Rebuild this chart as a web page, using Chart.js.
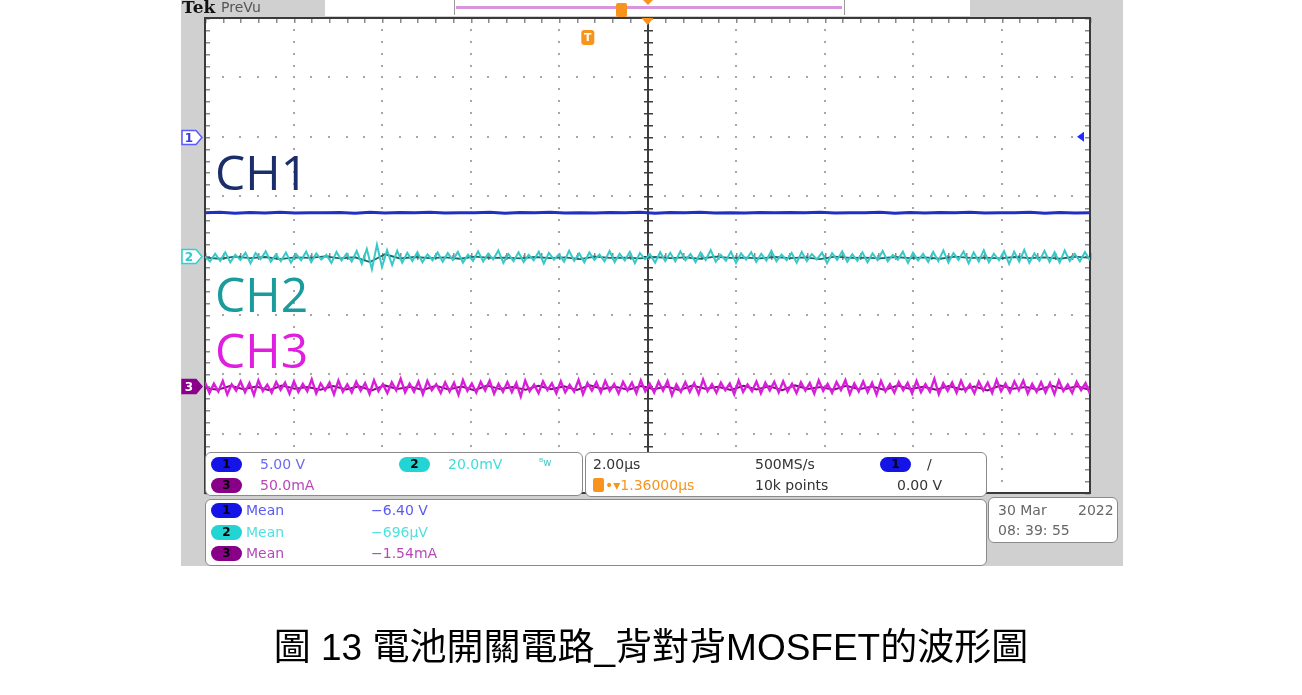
<!DOCTYPE html>
<html lang="zh-Hant">
<head>
<meta charset="UTF-8">
<title>電池開關電路 背對背MOSFET 波形</title>
<script src="https://cdn.jsdelivr.net/npm/chart.js"></script>
<style>
  html, body { margin: 0; padding: 0; background: #fff; }
  body { width: 1302px; height: 695px; position: relative; overflow: hidden; font-family: "DejaVu Sans", sans-serif; }
  #scopeBg { position: absolute; left: 181px; top: 0; width: 942px; height: 566px; background: #d0d0d0; }
  #scope { position: absolute; left: 0; top: 0; }
  .abs { position: absolute; white-space: nowrap; }
  .box { position: absolute; background: #fff; border: 1.5px solid #8a8a8a; border-radius: 6px; box-sizing: border-box; }
  .t { position: absolute; font-size: 14px; line-height: 16px; white-space: nowrap; }
  .pill { position: absolute; width: 31px; height: 15px; border-radius: 8px; font: bold 12px/15px "DejaVu Sans", sans-serif; color: #000; text-align: center; }
  .chl { position: absolute; font-family: "Open Sans", "Noto Sans", sans-serif; font-size: 48px; line-height: 48px; }
  #caption { position: absolute; left: 0; width: 1302px; top: 628px; text-align: center; font-family: "Liberation Sans", "Noto Sans CJK TC", sans-serif; font-size: 37px; line-height: 40px; color: #000; }
</style>
</head>
<body>
<div id="scopeBg"></div>
<canvas id="scope" width="1302" height="695"></canvas>

<!-- top status bar -->
<div class="abs" style="left:182px;top:-2px;font:bold 17px/18px 'DejaVu Serif',serif;color:#111;">Tek</div>
<div class="abs" style="left:221px;top:0;font:14px/15px 'DejaVu Sans',sans-serif;color:#555;">PreVu</div>
<div class="abs" style="left:325px;top:0;width:645px;height:16px;background:#fff;"></div>
<div class="abs" style="left:454px;top:0;width:389px;height:15px;border-left:1.5px solid #999;border-right:1.5px solid #999;"></div>
<div class="abs" style="left:456px;top:6px;width:386px;height:3px;background:#d894dc;"></div>
<div class="abs" style="left:616px;top:3px;width:11px;height:14px;background:#f7941d;border-radius:2px;"></div>
<div class="abs" style="left:643px;top:0;width:0;height:0;border-left:5px solid transparent;border-right:5px solid transparent;border-top:5px solid #f7941d;"></div>

<!-- channel labels -->
<div class="chl" style="left:215px;top:148px;color:#1c2d6b;">CH1</div>
<div class="chl" style="left:215px;top:270px;color:#1a9c9c;">CH2</div>
<div class="chl" style="left:215px;top:326px;color:#e01ee0;">CH3</div>

<!-- readout box: channel scales -->
<div class="box" style="left:205px;top:452px;width:378px;height:44px;"></div>
<div class="pill" style="left:211px;top:457px;background:#1414e6;">1</div>
<div class="t" style="left:260px;top:456px;color:#6a6af0;">5.00 V</div>
<div class="pill" style="left:399px;top:457px;background:#22d4d4;">2</div>
<div class="t" style="left:448px;top:456px;color:#40dcdc;">20.0mV</div>
<div class="t" style="left:539px;top:455px;font-size:10px;color:#40c8c8;">ᴮw</div>
<div class="pill" style="left:211px;top:478px;background:#880088;">3</div>
<div class="t" style="left:260px;top:477px;color:#b848b8;">50.0mA</div>

<!-- readout box: timebase / trigger -->
<div class="box" style="left:585px;top:452px;width:402px;height:45px;"></div>
<div class="t" style="left:593px;top:456px;color:#333;">2.00µs</div>
<div class="t" style="left:755px;top:456px;color:#333;">500MS/s</div>
<div class="pill" style="left:880px;top:457px;background:#1414e6;">1</div>
<div class="t" style="left:927px;top:456px;color:#333;">/</div>
<div class="abs" style="left:593px;top:478px;width:11px;height:14px;background:#f7941d;border-radius:2px;"></div>
<div class="t" style="left:605px;top:477px;color:#f7941d;">•▾1.36000µs</div>
<div class="t" style="left:755px;top:477px;color:#333;">10k points</div>
<div class="t" style="left:897px;top:477px;color:#333;">0.00 V</div>

<!-- measurement box -->
<div class="box" style="left:205px;top:499px;width:782px;height:67px;"></div>
<div class="pill" style="left:211px;top:503px;background:#1414e6;">1</div>
<div class="t" style="left:246px;top:502px;color:#5a5af0;">Mean</div>
<div class="t" style="left:371px;top:502px;color:#5a5af0;">−6.40 V</div>
<div class="pill" style="left:211px;top:525px;background:#22d4d4;">2</div>
<div class="t" style="left:246px;top:524px;color:#50e0e0;">Mean</div>
<div class="t" style="left:371px;top:524px;color:#50e0e0;">−696µV</div>
<div class="pill" style="left:211px;top:546px;background:#880088;">3</div>
<div class="t" style="left:246px;top:545px;color:#b848b8;">Mean</div>
<div class="t" style="left:371px;top:545px;color:#b848b8;">−1.54mA</div>

<!-- date box -->
<div class="box" style="left:988px;top:497px;width:130px;height:46px;"></div>
<div class="t" style="left:998px;top:502px;color:#666;">30 Mar</div>
<div class="t" style="left:1078px;top:502px;color:#666;">2022</div>
<div class="t" style="left:998px;top:522px;color:#666;">08: 39: 55</div>

<div id="caption">圖 13 電池開關電路_背對背MOSFET的波形圖</div>

<script>
// time base: 2.00 µs/div, 10 divisions, time relative to screen centre (µs)
const timeDivs = [-10, -8, -6, -4, -2, 0, 2, 4, 6, 8, 10];
// vertical divisions (screen units, centre = 0)
const voltDivs = [-4, -3, -2, -1, 0, 1, 2, 3, 4];
const triggerTime = -1.36;     // µs, trigger point relative to centre

// channel settings: scale per division and marker position (div)
const ch1Scale = 5.0,  ch1Pos = 2.0;    // V/div
const ch2Scale = 20.0, ch2Pos = 0.0;    // mV/div
const ch3Scale = 50.0, ch3Pos = -2.2;   // mA/div

// CH1 (V) - flat at about -6.40 V
const ch1Volts = [
  -6.40,-6.36,-6.44,-6.38,-6.42,-6.35,-6.43,-6.39,-6.41,-6.37,-6.44,-6.36,-6.42,-6.38,-6.40,-6.35,-6.43,-6.39,-6.41,-6.36,
  -6.44,-6.38,-6.40,-6.36,-6.42,-6.39,-6.43,-6.37,-6.41,-6.35,-6.44,-6.38,-6.40,-6.36,-6.42,-6.39,-6.43,-6.37,-6.41,-6.38,
  -6.40,-6.35,-6.43,-6.39,-6.41,-6.36,-6.44,-6.38,-6.42,-6.37,-6.40,-6.36,-6.43,-6.39,-6.41,-6.35,-6.44,-6.38,-6.42,-6.40
];

// CH2 (mV) - noise envelope around 0, small burst near the left
const ch2Noise = [
  -0.4,-2.0,0.6,-1.8,1.1,-2.3,0.2,-1.5,0.9,-2.6,0.8,-1.2,1.4,-2.1,0.3,-1.9,
  1.0,-2.4,0.5,-1.6,1.3,-2.2,0.7,-1.4,0.2,-2.5,1.2,-1.7,0.6,-2.0,1.5,-2.8,
  2.2,-4.6,3.6,-3.9,1.8,-3.2,1.6,-2.4,0.9,-1.9,1.1,-2.3,0.4,-1.6,1.0,-2.1,
  0.8,-1.5,1.2,-2.4,0.3,-1.8,1.4,-2.0,0.6,-1.3,1.7,-2.5,0.5,-1.9,1.1,-2.2,
  0.2,-1.6,1.3,-2.7,0.9,-1.4,0.4,-2.1,1.6,-1.8,0.7,-2.3,1.0,-1.5,0.3,-2.0,
  1.5,-2.2,0.6,-1.7,1.2,-2.6,0.8,-1.3,0.4,-2.4,1.1,-1.9,0.9,-2.0,1.4,-1.6,
  0.5,-2.3,1.0,-1.5,1.8,-2.1,0.2,-1.8,1.3,-2.5,0.7,-1.4,1.1,-2.2,0.6,-1.7,
  1.6,-2.0,0.3,-1.6,0.9,-2.4,1.2,-1.9,0.5,-1.3,1.0,-2.6,0.8,-1.5,1.4,-2.1,
  0.4,-1.8,1.1,-2.3,0.7,-1.6,1.5,-2.0,0.2,-1.4,1.3,-2.5,0.9,-1.7,0.6,-2.2,
  1.2,-1.9,1.7,-2.4,0.8,-1.5,1.4,-2.6,1.0,-2.0,1.8,-2.3,0.6,-1.6,1.5,-2.8,
  1.3,-2.1,1.9,-2.5,0.7,-1.8,1.6,-2.2,1.1,-2.4,1.7,-1.9,0.5,-2.0,1.2,-1.6
];
// CH2 dense core (mV)
const ch2Core = [
  -0.7,-1.1,-0.4,-0.9,-0.5,-1.2,-0.6,-0.8,-0.3,-1.0,-0.6,-2.2,0.4,-1.0,-0.5,-0.9,
  -0.6,-1.1,-0.4,-0.8,-0.7,-1.0,-0.5,-0.9,-0.6,-1.2,-0.4,-0.8,-0.7,-1.0,
  -0.5,-0.9,-0.6,-1.1,-0.4,-0.8,-0.7,-1.0,-0.5,-0.9,-0.6,-1.2,-0.4,-0.8,-0.7,
  -1.0,-0.5,-0.9,-0.6,-1.1,-0.4,-0.8,-0.7,-1.0,-0.5,-0.9,-0.6,-1.1,-0.4,-0.8
];

// CH3 (mA) - wide noise band around -1.5 mA
const ch3Noise = [
  3.2,-5.8,2.1,-4.6,4.4,-6.9,1.5,-3.8,3.9,-5.2,2.6,-7.4,4.8,-4.1,1.2,-5.6,3.5,-3.2,2.9,-6.3,
  4.1,-5.0,1.8,-4.4,5.6,-6.1,2.3,-3.5,3.0,-7.0,4.6,-4.8,1.4,-5.4,3.7,-3.9,2.5,-6.6,4.9,-4.2,
  1.7,-5.9,3.3,-3.6,6.2,-5.3,2.0,-4.7,3.8,-6.8,4.3,-3.4,1.6,-5.7,3.1,-4.5,2.8,-7.2,5.1,-4.0,
  2.2,-5.5,3.6,-3.7,4.5,-6.4,1.9,-4.9,3.4,-5.1,2.7,-8.6,4.7,-4.3,1.3,-5.8,3.9,-3.3,2.4,-6.0,
  4.0,-5.2,1.1,-4.6,5.3,-6.7,2.6,-3.8,3.2,-5.5,4.4,-4.1,1.8,-6.2,3.5,-3.6,2.9,-5.9,4.8,-4.4,
  2.0,-5.4,3.7,-3.9,4.2,-7.6,1.5,-4.8,3.3,-5.0,2.5,-6.5,5.5,-4.2,1.7,-5.6,3.0,-3.5,2.2,-6.9,
  4.6,-4.9,1.4,-4.3,3.8,-6.0,2.8,-3.7,3.6,-5.3,4.1,-4.5,2.0,-5.8,3.2,-3.8,2.6,-6.3,4.9,-4.0,
  1.9,-5.7,3.4,-3.4,5.0,-6.6,2.3,-4.6,3.9,-5.1,2.8,-7.1,4.4,-4.4,1.6,-5.5,3.5,-3.6,2.7,-6.2,
  4.3,-5.1,1.7,-4.7,6.0,-6.8,2.4,-3.9,3.1,-5.6,4.5,-4.2,1.5,-6.0,3.8,-3.7,2.9,-5.8,5.2,-4.3,
  2.1,-5.3,3.9,-3.5,4.6,-6.2,1.8,-4.9,3.3,-5.4,2.6,-6.7,4.7,-4.1,1.3,-5.7,3.6,-3.4,2.5,-6.4
];
// CH3 dense core (mA)
const ch3Core = [
  -1.5,-3.0,0.2,-2.6,-0.4,-3.4,0.5,-2.2,-0.8,-3.1,0.1,-2.8,-0.2,-3.6,0.6,-2.4,-0.6,-3.2,0.3,-2.9,
  -0.3,-3.5,0.4,-2.5,-0.7,-3.0,0.2,-2.7,-0.1,-3.3,0.7,-2.3,-0.5,-3.1,0.1,-2.6,-0.4,-3.4,0.5,-2.1,
  -0.6,-3.2,0.3,-2.8,-0.2,-3.5,0.6,-2.4,-0.8,-3.0,0.2,-2.7,-0.3,-3.3,0.4,-2.5,-0.5,-3.1,0.1,-2.9,
  -0.4,-3.6,0.5,-2.2,-0.7,-3.0,0.3,-2.6,-0.1,-3.2
];

// samples spread evenly across the record, converted to screen divisions
function trace(values, scale, pos) {
  const t0 = timeDivs[0], span = timeDivs[timeDivs.length - 1] - t0;
  return values.map((v, i) => ({ x: t0 + span * i / (values.length - 1), y: v / scale + pos }));
}

function minors(majors) {
  const out = [];
  for (let i = 0; i < majors.length - 1; i++) {
    const step = (majors[i + 1] - majors[i]) / 5;
    for (let k = 0; k < 5; k++) out.push(majors[i] + k * step);
  }
  out.push(majors[majors.length - 1]);
  return out;
}

const scopeGrid = {
  id: 'scopeGrid',
  beforeDatasetsDraw(chart) {
    const { ctx, chartArea: a, scales: { x, y } } = chart;
    const xMin = minors(timeDivs), yMin = minors(voltDivs);
    const cx = Math.round(x.getPixelForValue(0)), cy = Math.round(y.getPixelForValue(0));
    ctx.save();
    ctx.fillStyle = '#fff';
    ctx.fillRect(a.left, a.top, a.right - a.left, a.bottom - a.top);

    // dotted division lines
    ctx.fillStyle = '#a6a6a6';
    timeDivs.slice(1, -1).forEach(t => {
      if (t === 0) return;
      const px = Math.round(x.getPixelForValue(t));
      yMin.forEach(v => ctx.fillRect(px - 1, Math.round(y.getPixelForValue(v)) - 1, 2, 2));
    });
    voltDivs.slice(1, -1).forEach(v => {
      const py = Math.round(y.getPixelForValue(v));
      xMin.forEach(t => ctx.fillRect(Math.round(x.getPixelForValue(t)) - 1, py - 1, 2, 2));
    });

    // centre graticule with ticks
    ctx.fillStyle = '#3c3c3c';
    ctx.fillRect(cx - 1, a.top, 2, a.bottom - a.top);
    yMin.forEach(v => ctx.fillRect(cx - 4, Math.round(y.getPixelForValue(v)), 9, 1.5));
    ctx.fillStyle = '#8a8a8a';
    xMin.forEach(t => ctx.fillRect(Math.round(x.getPixelForValue(t)), cy - 3, 1.5, 7));

    // edge ticks
    xMin.forEach(t => ctx.fillRect(Math.round(x.getPixelForValue(t)), a.top, 1.5, 5));
    yMin.forEach(v => {
      const py = Math.round(y.getPixelForValue(v));
      ctx.fillRect(a.right - 5, py, 5, 1.5);
      ctx.fillRect(a.left, py, 5, 1.5);
    });

    // frame
    ctx.strokeStyle = '#3a3a3a';
    ctx.lineWidth = 2;
    ctx.strokeRect(a.left, a.top, a.right - a.left, a.bottom - a.top);
    ctx.restore();
  },
  afterDraw(chart) {
    const { ctx, chartArea: a, scales: { x, y } } = chart;
    ctx.save();
    // channel ground markers on the left edge
    const markers = [
      { label: '1', pos: ch1Pos, fill: '#fff', stroke: '#5a5aff', text: '#3a3ae0' },
      { label: '2', pos: ch2Pos, fill: '#fff', stroke: '#30d0d0', text: '#30c8c8' },
      { label: '3', pos: ch3Pos, fill: '#8a008a', stroke: '#8a008a', text: '#fff' }
    ];
    markers.forEach(m => {
      const py = Math.round(y.getPixelForValue(m.pos)) + 0.5;
      ctx.beginPath();
      ctx.moveTo(182, py - 7);
      ctx.lineTo(196, py - 7);
      ctx.lineTo(202, py);
      ctx.lineTo(196, py + 7);
      ctx.lineTo(182, py + 7);
      ctx.closePath();
      ctx.fillStyle = m.fill;
      ctx.fill();
      ctx.lineWidth = 1.5;
      ctx.strokeStyle = m.stroke;
      ctx.stroke();
      ctx.fillStyle = m.text;
      ctx.font = 'bold 12px "DejaVu Sans", sans-serif';
      ctx.textAlign = 'center';
      ctx.textBaseline = 'middle';
      ctx.fillText(m.label, 189, py + 1);
    });

    // trigger level arrow on CH1 (0.00 V)
    const ty = y.getPixelForValue(ch1Pos);
    ctx.fillStyle = '#1f2cff';
    ctx.beginPath();
    ctx.moveTo(a.right - 13, ty);
    ctx.lineTo(a.right - 6, ty - 5);
    ctx.lineTo(a.right - 6, ty + 5);
    ctx.closePath();
    ctx.fill();

    // trigger position marker at top
    const cx = x.getPixelForValue(0);
    ctx.fillStyle = '#f7941d';
    ctx.beginPath();
    ctx.moveTo(cx - 6, a.top);
    ctx.lineTo(cx + 6, a.top);
    ctx.lineTo(cx, a.top + 7);
    ctx.closePath();
    ctx.fill();

    // T marker at the trigger time
    const tx = x.getPixelForValue(triggerTime);
    ctx.beginPath();
    ctx.roundRect(tx - 6, a.top + 12, 13, 15, 3);
    ctx.fill();
    ctx.fillStyle = '#fff';
    ctx.font = 'bold 11px "DejaVu Sans", sans-serif';
    ctx.textAlign = 'center';
    ctx.textBaseline = 'middle';
    ctx.fillText('T', tx + 0.5, a.top + 20);
    ctx.restore();
  }
};

new Chart(document.getElementById('scope'), {
  type: 'line',
  data: {
    datasets: [
      { label: 'CH3', data: trace(ch3Noise, ch3Scale, ch3Pos), borderColor: '#d81ed8', borderWidth: 2.4 },
      { label: 'CH3 core', data: trace(ch3Core, ch3Scale, ch3Pos), borderColor: '#7e0f7e', borderWidth: 2 },
      { label: 'CH2', data: trace(ch2Noise, ch2Scale, ch2Pos), borderColor: '#38c8c8', borderWidth: 2 },
      { label: 'CH2 core', data: trace(ch2Core, ch2Scale, ch2Pos), borderColor: '#1a6a6a', borderWidth: 1.8 },
      { label: 'CH1', data: trace(ch1Volts, ch1Scale, ch1Pos), borderColor: '#2030c4', borderWidth: 3 }
    ]
  },
  options: {
    responsive: false,
    animation: false,
    layout: { padding: { left: 205, right: 212, top: 18, bottom: 202 } },
    elements: { point: { radius: 0 }, line: { tension: 0 } },
    scales: {
      x: { type: 'linear', min: timeDivs[0], max: timeDivs[timeDivs.length - 1], display: false },
      y: { type: 'linear', min: voltDivs[0], max: voltDivs[voltDivs.length - 1], display: false }
    },
    plugins: { legend: { display: false }, tooltip: { enabled: false } }
  },
  plugins: [scopeGrid]
});
</script>
</body>
</html>
